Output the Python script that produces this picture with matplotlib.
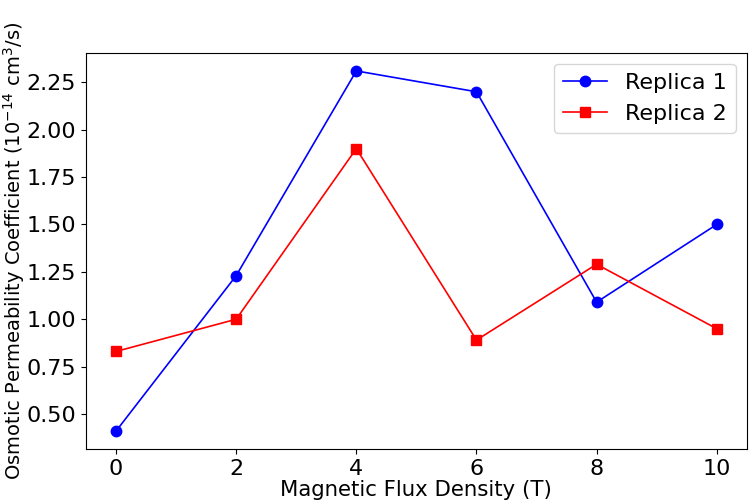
import numpy as np
from matplotlib import pyplot as plt

# Data
flux_density = [0, 2, 4, 6, 8, 10]
replica_1 = [0.41, 1.23, 2.31, 2.20, 1.09, 1.50]
replica_2 = [0.83, 1.00, 1.90, 0.89, 1.29, 0.95]

fig = plt.figure(figsize=(7.5, 5.04), dpi=100)
ax = fig.add_axes([0.1147, 0.109, 0.881, 0.786])

ax.plot(flux_density, replica_1, color='blue', marker='o', markersize=7.5,
	linewidth=1.2, label='Replica 1')
ax.plot(flux_density, replica_2, color='red', marker='s', markersize=7,
	linewidth=1.2, label='Replica 2')

ax.set_xlabel('Magnetic Flux Density (T)', fontsize=15.3, labelpad=1)
ax.set_ylabel('Osmotic Permeability Coefficient ($10^{-14}$ cm$^3$/s)', fontsize=14)
ax.yaxis.set_label_coords(-0.09, 0.5)
ax.tick_params(labelsize=16)
ax.set_yticks([0.5, 0.75, 1.0, 1.25, 1.5, 1.75, 2.0, 2.25])
ax.set_yticklabels(['0.50', '0.75', '1.00', '1.25', '1.50', '1.75', '2.00', '2.25'])

ax.legend(loc='upper right', fontsize=16)

fig.savefig('out.png', dpi=100)
